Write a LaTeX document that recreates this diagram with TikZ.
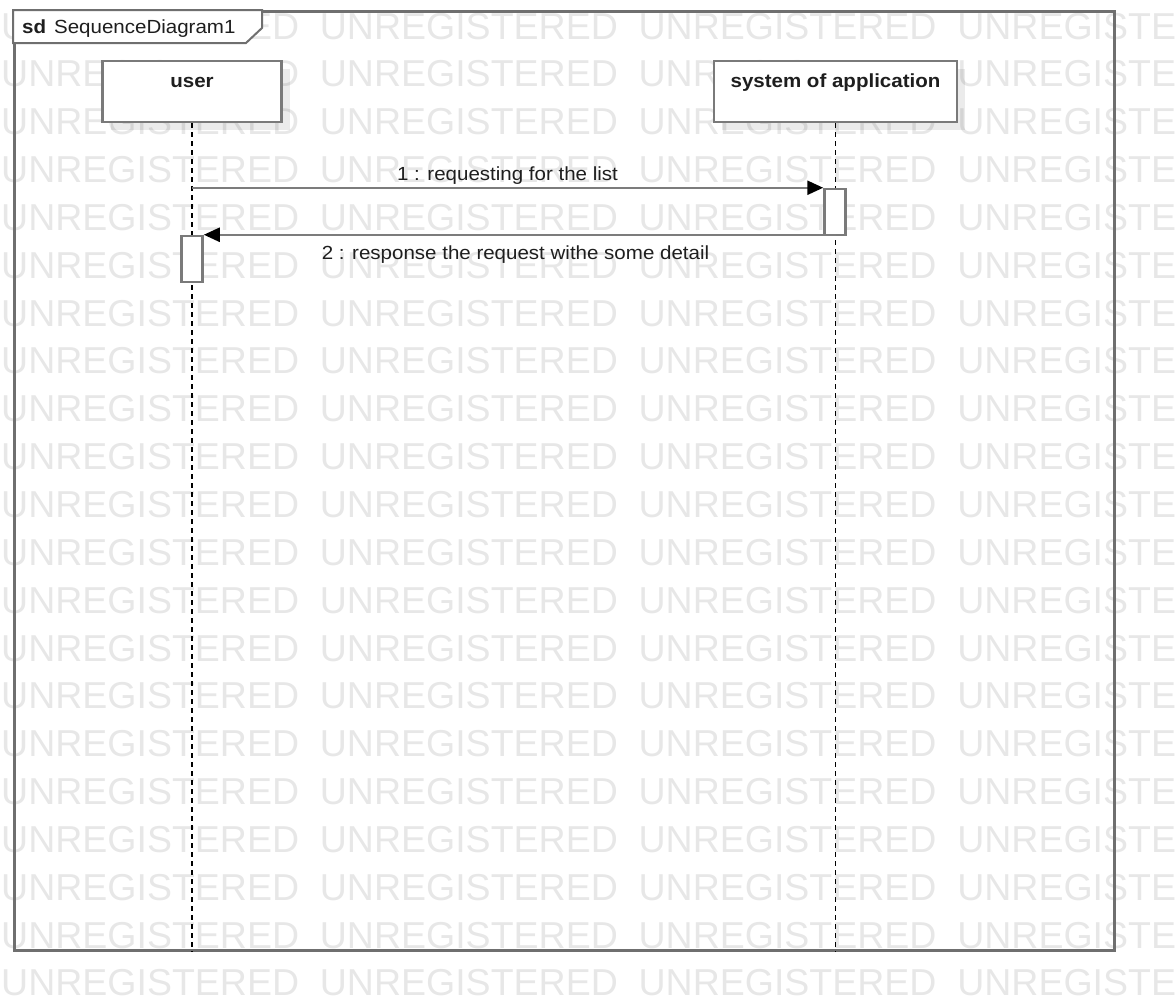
\documentclass[tikz,border=0pt]{standalone}
\usepackage{fontspec}
\setmainfont{Liberation Sans}[FakeStretch=1.08]
\newfontfamily\wmfont{Liberation Sans}
\usetikzlibrary{arrows.meta,shadows}

\definecolor{frameline}{HTML}{6F6F6F}
\definecolor{boxline}{HTML}{7A7A7A}
\definecolor{msgline}{HTML}{7C7C7C}
\definecolor{inktext}{HTML}{1E1E1E}
\definecolor{watermark}{HTML}{E7E7E7}

\begin{document}
\begin{tikzpicture}[x=1pt,y=-1pt,
  frame/.style={draw=frameline,line width=2.5pt,inner sep=0pt,anchor=north west},
  tabbox/.style={draw=frameline,line width=2pt,fill=white},
  headbox/.style={draw=boxline,line width=2.5pt,fill=white,inner sep=0pt,
    drop shadow={shadow xshift=8pt,shadow yshift=-8pt,fill=black,opacity=0.08}},
  headtext/.style={font=\fontsize{19}{23}\selectfont\bfseries,text=inktext,inner sep=0pt,anchor=base},
  lifeline/.style={draw=black,line width=1.6pt,dash pattern=on 5pt off 4pt},
  actbox/.style={draw=boxline,line width=2.5pt,fill=white,inner sep=0pt,
    minimum width=21pt,minimum height=46pt},
  msg/.style={draw=msgline,line width=2.5pt,
    -{Triangle[length=16pt,width=14pt,color=black,fill=black]}},
  msgtext/.style={font=\fontsize{19}{23}\selectfont,text=inktext,inner sep=0pt,anchor=base},
  wm/.style={font=\wmfont\fontsize{37.5}{40}\selectfont,text=watermark,inner sep=0pt,anchor=west}]

\useasboundingbox (0,0) rectangle (1176,1001);

% tiled background lettering
\begin{scope}
  \clip (0,0) rectangle (1176,1001);
  \foreach \i in {0,...,20}
    \foreach \j in {0,...,3}
      \node[wm] (wm-\i-\j) at ({1+318.7*\j},{26.2+47.84*\i}) {UNREGISTERED};
\end{scope}

% diagram frame with its name tab
\node[frame,minimum width=1100pt,minimum height=939pt] (frame) at (13,10) {};
\draw[tabbox] (13,10) -- (262,10) -- (262,28) -- (246,43) -- (13,43) -- cycle;
\node[anchor=base west,inner sep=0pt,text=inktext,font=\fontsize{19}{23}\selectfont]
  (sdlabel) at (22,33) {\textbf{sd}\hspace{8pt}SequenceDiagram1};

% lifeline heads
\node[headbox,minimum width=179pt,minimum height=61pt] (user) at (192,91.5) {};
\node[headtext] (usertxt) at (192,87) {user};
\node[headbox,minimum width=243pt,minimum height=61pt] (sys) at (835.5,91.5) {};
\node[headtext] (systxt) at (835.5,87) {system of application};

% lifelines
\draw[lifeline] (user.south) -- (user.south |- frame.south);
\draw[lifeline] (sys.south) -- (sys.south |- frame.south);

% activations
\node[actbox] (act1) at (835,212) {};
\node[actbox] (act2) at (192,259) {};

% messages
\coordinate (m1start) at (user.south |- act1.north);
\draw[msg] (m1start) -- (act1.north west);
\node[msgtext] (m1label) at (507.5,180.5) {1 : requesting for the list};

\coordinate (m2start) at (sys.south |- act2.north);
\draw[msg] (m2start) -- (act2.north east);
\node[msgtext] (m2label) at (515.5,259.5) {2 : response the request withe some detail};
\end{tikzpicture}
\end{document}
